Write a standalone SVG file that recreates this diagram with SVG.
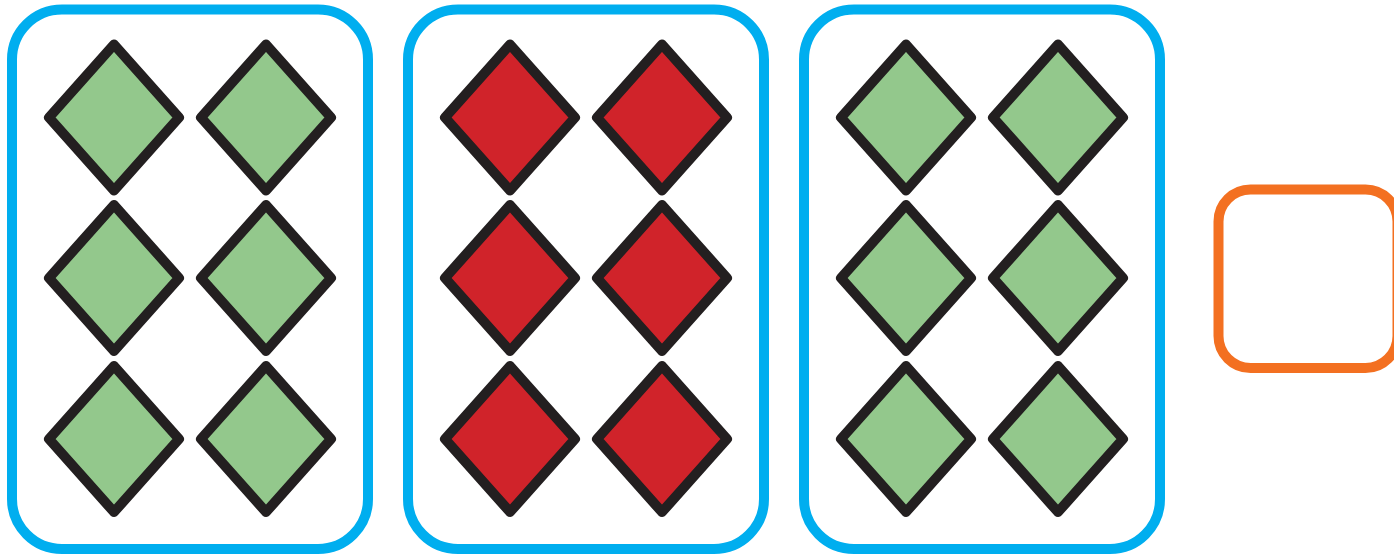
<svg xmlns="http://www.w3.org/2000/svg" width="1394" height="555" viewBox="0 0 1394 555">
<defs>
<style>
.card{fill:#fff;stroke:#00AEEF;stroke-width:10}
.dia{stroke:#231F20;stroke-width:10;stroke-linejoin:round}
.g{fill:#93C88C}
.r{fill:#D0232A}
.box{fill:#fff;stroke:#F37021;stroke-width:10}
</style>
<path id="d" d="M0,-73 L65,0 L0,73 L-65,0 Z"/>
</defs>
<rect width="1394" height="555" fill="#fff"/>
<g id="card1">
<rect class="card" x="12" y="9.5" width="356" height="539.5" rx="50"/>
<use href="#d" class="dia g" x="114" y="117.5"/>
<use href="#d" class="dia g" x="266" y="117.5"/>
<use href="#d" class="dia g" x="114" y="278"/>
<use href="#d" class="dia g" x="266" y="278"/>
<use href="#d" class="dia g" x="114" y="439"/>
<use href="#d" class="dia g" x="266" y="439"/>
</g>
<g id="card2">
<rect class="card" x="408" y="9.5" width="356" height="539.5" rx="50"/>
<use href="#d" class="dia r" x="510" y="117.5"/>
<use href="#d" class="dia r" x="662" y="117.5"/>
<use href="#d" class="dia r" x="510" y="278"/>
<use href="#d" class="dia r" x="662" y="278"/>
<use href="#d" class="dia r" x="510" y="439"/>
<use href="#d" class="dia r" x="662" y="439"/>
</g>
<g id="card3">
<rect class="card" x="804" y="9.5" width="356" height="539.5" rx="50"/>
<use href="#d" class="dia g" x="906" y="117.5"/>
<use href="#d" class="dia g" x="1058" y="117.5"/>
<use href="#d" class="dia g" x="906" y="278"/>
<use href="#d" class="dia g" x="1058" y="278"/>
<use href="#d" class="dia g" x="906" y="439"/>
<use href="#d" class="dia g" x="1058" y="439"/>
</g>
<g id="empty-box">
<rect class="box" x="1218.5" y="189.5" width="179" height="178.5" rx="32"/>
</g>
<g id="connectors"></g>
</svg>
